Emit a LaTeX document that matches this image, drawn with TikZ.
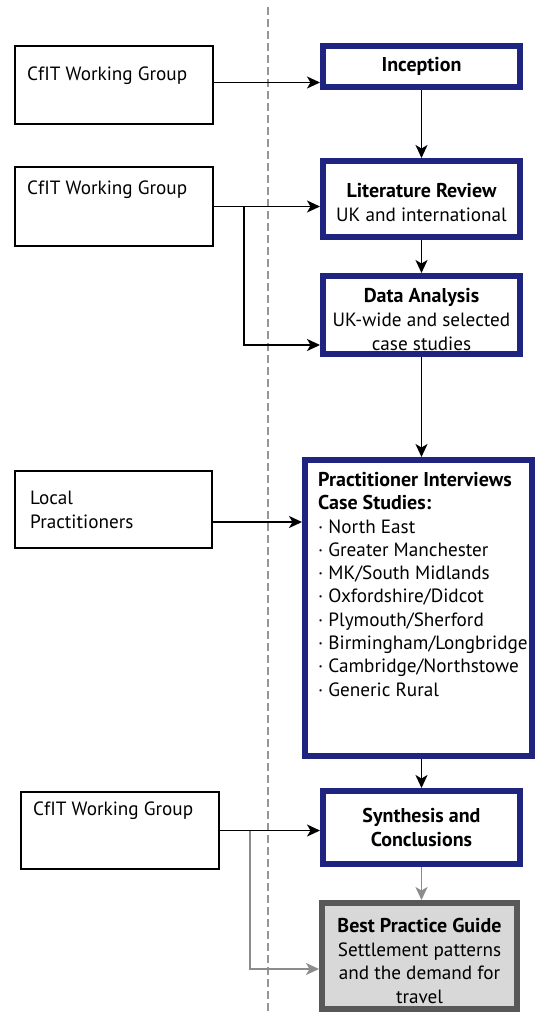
\documentclass[tikz,border=0pt]{standalone}
\usepackage{fontspec}
\setmainfont{PT Sans}
\usetikzlibrary{arrows.meta}
\definecolor{navy}{RGB}{30,36,128}
\definecolor{dashgray}{RGB}{150,150,150}
\definecolor{arrgray}{RGB}{140,140,140}
\definecolor{boxgray}{RGB}{216,216,216}
\definecolor{bordergray}{RGB}{88,88,88}
\newcommand{\hd}[1]{{\fontsize{20}{24}\selectfont\bfseries #1}}
\tikzset{
  srcbox/.style={draw=black, line width=1.5pt, inner sep=0pt, minimum width=198pt},
  stagebox/.style={draw=navy, line width=6pt, fill=white, inner sep=0pt, minimum width=197pt, align=center},
  guidebox/.style={draw=bordergray, line width=6pt, fill=boxgray, inner sep=0pt, align=center},
  lbl/.style={anchor=base west, inner sep=0pt},
  mlbl/.style={anchor=north west, inner sep=0pt, align=left},
  clbl/.style={inner sep=0pt, align=center},
  arr/.style={line width=1.8pt, -{Stealth[length=13pt,width=12pt,inset=3.5pt]}},
  garr/.style={arr, draw=arrgray, color=arrgray},
  divider/.style={draw=dashgray, line width=1.5pt, dash pattern=on 8pt off 4pt},
}
\begin{document}
\begin{tikzpicture}[x=1pt,y=-1pt,font=\fontsize{19.2}{24}\selectfont]
\useasboundingbox (0,0) rectangle (537,1013);
% divider
\coordinate (dtop) at (268,7);
\coordinate (dbot) at (268,1013);
\draw[divider] (dtop) -- (dbot);

% source boxes
\node[srcbox, minimum height=78pt] (b1) at (114,85) {};
\node[lbl] (t1) at (27,80) {CfIT Working Group};
\node[srcbox, minimum height=79pt] (b2) at (114,206.5) {};
\node[lbl] (t2) at (27,194) {CfIT Working Group};
\node[srcbox, minimum width=197pt, minimum height=77pt] (b3) at (113.5,509.5) {};
\node[mlbl, font=\fontsize{19.2}{23.5}\selectfont] (t3) at (30,491) {Local\\Practitioners};
\node[srcbox, minimum height=77pt] (b4) at (120,830.5) {};
\node[lbl] (t4) at (33,815) {CfIT Working Group};

% stage boxes
\node[stagebox, minimum height=41pt] (inc) at (421.5,66.5) {\hd{Inception}};
\node[stagebox, minimum height=76pt] (lit) at (421.5,199) {};
\node[clbl] (litt) at (421.5,202) {\hd{Literature Review}\\UK and international};
\node[stagebox, minimum height=78pt] (data) at (421.5,315) {};
\node[clbl] (datat) at (421.5,319) {\hd{Data Analysis}\\UK-wide and selected\\case studies};
\node[stagebox, minimum width=227pt, minimum height=296pt] (prac) at (418.5,608) {};
\node[mlbl, font=\fontsize{19.2}{23.3}\selectfont] (ptext) at (318,472) {\hd{Practitioner Interviews}\\\hd{Case Studies:}\\
· North East\\· Greater Manchester\\· MK/South Midlands\\· Oxfordshire/Didcot\\· Plymouth/Sherford\\· Birmingham/Longbridge\\· Cambridge/Northstowe\\· Generic Rural};
\node[stagebox, minimum height=73pt] (syn) at (421.5,827.5) {\hd{Synthesis and}\\\hd{Conclusions}};
\node[guidebox, minimum width=195pt, minimum height=106pt] (best) at (419.5,956) {};
\node[clbl, font=\fontsize{19.2}{23.5}\selectfont] (bestt) at (419.5,961) {\hd{Best Practice Guide}\\Settlement patterns\\and the demand for\\travel};

% connectors
\draw[arr] ([yshift=2.5pt]b1.east) coordinate (a1) -- (a1 -| inc.west);
\draw[arr] (inc.south) -- (lit.north);
\draw[arr] (b2.east) -- (b2.east -| lit.west);
\coordinate (j2) at (244,206.5);
\draw[arr] (j2) |- ([yshift=-30pt]data.west);
\draw[arr] (lit.south) -- (data.north);
\draw[arr] (data.south) -- (data.south |- prac.north);
\draw[arr] ([yshift=-12.5pt]b3.east) coordinate (a3) -- (a3 -| prac.west);
\draw[arr] (prac.south -| syn.north) -- (syn.north);
\coordinate (j4) at (250,830.5);
\draw[garr] (j4) |- ([yshift=-13pt]best.west);
\draw[arr] (b4.east) -- (b4.east -| syn.west);
\draw[garr] (syn.south) -- (syn.south |- best.north);
\end{tikzpicture}
\end{document}
